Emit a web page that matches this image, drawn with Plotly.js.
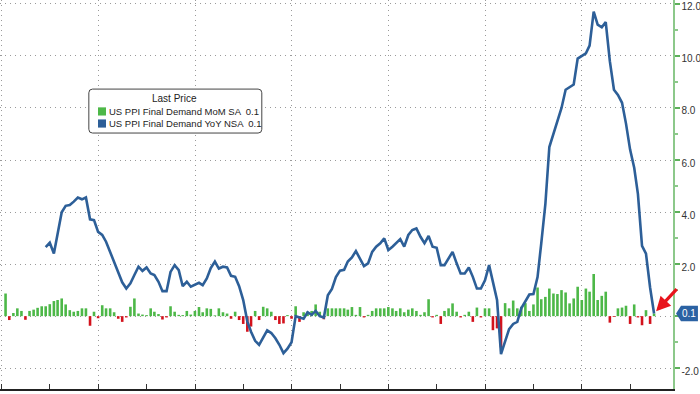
<!DOCTYPE html>
<html>
<head>
<meta charset="utf-8">
<script src="https://cdn.plot.ly/plotly-3.0.1.min.js"></script>
<style>
html,body{margin:0;padding:0;background:#fff;}
#chart{width:700px;height:394px;}
</style>
</head>
<body>
<div id="chart"></div>
<script>
// ---- Data ----
const legendTitle = "Last Price";
const momName = "US PPI Final Demand MoM SA";
const yoyName = "US PPI Final Demand YoY NSA";
const momLast = "0.1";
const yoyLast = "0.1";

// MoM SA, monthly, Jan 2010 .. Jun 2023
const momStart = [2010, 1];
const mom2010 = [0.87, -0.15, 0.12, 0.3, 0.2, -0.14, 0.2, 0.25, 0.32, 0.38, 0.38, 0.46];
const mom2011 = [0.58, 0.62, 0.68, 0.45, 0.23, 0.17, 0.2, 0.3, 0.3, -0.37, 0.17, -0.08];
const mom2012 = [0.42, 0.3, 0.3, 0.15, -0.1, -0.22, -0.05, 0.36, 0.68, 0.1, 0.06, 0.04];
const mom2013 = [0.3, 0.17, 0.08, -0.13, -0.05, 0.38, 0.17, 0.05, 0.04, 0.2, 0.06, 0.2];
const mom2014 = [0.35, 0.15, 0.3, 0.28, 0.03, 0.3, 0.15, 0.1, -0.1, 0.17, -0.15, -0.3];
const mom2015 = [-0.6, -0.4, 0.2, -0.15, 0.36, 0.3, 0.17, -0.15, -0.3, -0.28, 0.04, -0.1];
const mom2016 = [0.38, -0.22, 0.15, 0.17, 0.2, 0.45, 0.17, -0.12, 0.3, 0.3, 0.3, 0.3];
const mom2017 = [0.3, 0.25, 0.35, 0.05, 0.35, -0.05, 0.05, 0.2, 0.3, 0.3, 0.3, 0.35];
const mom2018 = [0.3, 0.2, 0.3, 0.15, 0.25, 0.3, 0.2, 0.05, 0.15, 0.65, -0.05, 0.05];
const mom2019 = [-0.3, 0.2, 0.3, 0.49, 0.17, -0.05, 0.05, 0.17, -0.22, 0.33, -0.05, 0.3];
const mom2020 = [0.3, -0.54, -0.47, -1.2, 0.5, 0.3, 0.6, 0.3, 0.36, 0.5, 0.2, 0.45];
const mom2021 = [1.1, 0.65, 0.74, 1.06, 0.87, 0.85, 1.0, 0.91, 0.49, 0.68, 1.13, 0.62];
const mom2022 = [1.06, 0.94, 1.62, 0.62, 0.78, 0.94, -0.25, -0.03, 0.3, 0.33, 0.4, -0.3];
const mom2023 = [0.45, -0.05, -0.35, 0.23, -0.3, 0.1];

// YoY NSA, monthly, Nov 2010 .. Jun 2023
const yoyStart = [2010, 11];
const yoy2010 = [2.65, 2.82];
const yoy2011 = [2.41, 3.18, 3.99, 4.24, 4.27, 4.4, 4.56, 4.49, 4.56, 3.72, 3.69, 3.24];
const yoy2012 = [3.12, 2.86, 2.47, 2.1, 1.7, 1.3, 1.06, 1.26, 1.58, 1.9, 1.74, 1.87];
const yoy2013 = [1.64, 1.58, 1.32, 0.96, 0.96, 1.7, 1.96, 1.77, 1.15, 1.32, 1.13, 1.22];
const yoy2014 = [1.28, 1.19, 1.45, 1.85, 2.1, 1.83, 1.9, 1.87, 1.55, 1.51, 1.15, 0.62];
const yoy2015 = [-0.2, -0.6, -0.95, -1.1, -0.8, -0.55, -0.65, -0.85, -1.1, -1.42, -1.25, -1.0];
const yoy2016 = [0.0, -0.05, -0.1, 0.15, 0.05, 0.2, 0.0, -0.05, 0.8, 1.05, 1.5, 1.75];
const yoy2017 = [1.78, 2.1, 2.26, 2.5, 2.22, 1.92, 2.03, 2.47, 2.67, 2.8, 2.99, 2.54];
const yoy2018 = [2.67, 2.8, 2.96, 2.67, 3.12, 3.31, 3.37, 3.05, 2.8, 3.08, 2.67, 2.63];
const yoy2019 = [1.96, 1.96, 2.2, 2.47, 2.03, 1.64, 1.64, 1.87, 1.51, 1.06, 1.06, 1.38];
const yoy2020 = [1.96, 1.26, 0.62, -1.46, -1.0, -0.5, -0.3, -0.22, 0.3, 0.55, 0.83, 0.85];
const yoy2021 = [1.5, 2.8, 4.3, 6.5, 7.0, 7.5, 8.0, 8.7, 8.8, 8.9, 9.9, 10.0];
const yoy2022 = [10.1, 10.4, 11.7, 11.2, 11.1, 11.3, 9.8, 8.7, 8.5, 8.2, 7.4, 6.4];
const yoy2023 = [5.7, 4.7, 2.7, 2.4, 1.1, 0.1];

const yTickVals = [-2, 0, 2, 4, 6, 8, 10, 12];
const yTickText = ["-2.0", "", "2.0", "4.0", "6.0", "8.0", "10.0", "12.0"];

// ---- Build ----
const momVals = [].concat(mom2010, mom2011, mom2012, mom2013, mom2014, mom2015, mom2016,
  mom2017, mom2018, mom2019, mom2020, mom2021, mom2022, mom2023);
const yoyVals = [].concat(yoy2010, yoy2011, yoy2012, yoy2013, yoy2014, yoy2015, yoy2016,
  yoy2017, yoy2018, yoy2019, yoy2020, yoy2021, yoy2022, yoy2023);

function monthEnds(start, n) {
  const out = [];
  for (let i = 0; i < n; i++) {
    const d = new Date(Date.UTC(start[0], start[1] - 1 + i + 1, 0));
    out.push(d.toISOString().slice(0, 10));
  }
  return out;
}
const momDates = monthEnds(momStart, momVals.length);
const yoyDates = monthEnds(yoyStart, yoyVals.length);

const GREEN = '#4DB848', RED = '#D3121C', BLUE = '#2D5F98';
const lastDate = yoyDates[yoyDates.length - 1];
const lastYoy = yoyVals[yoyVals.length - 1];

const traces = [
  {
    type: 'bar', x: momDates, y: momVals, name: momName,
    marker: {color: momVals.map(v => v < 0 ? RED : GREEN), line: {width: 0}},
    hoverinfo: 'skip', showlegend: false
  },
  {
    type: 'scatter', mode: 'lines', x: yoyDates, y: yoyVals, name: yoyName,
    line: {color: BLUE, width: 2.6}, hoverinfo: 'skip', showlegend: false
  }
];

const yMin = -2.8, yMax = 12.15;
const pY = v => (v - yMin) / (yMax - yMin);

// rounded rectangle path in paper coords
function roundRect(x0, x1, y0, y1, rx, ry) {
  return `M ${x0 + rx} ${y1} L ${x1 - rx} ${y1} Q ${x1} ${y1} ${x1} ${y1 - ry} ` +
    `L ${x1} ${y0 + ry} Q ${x1} ${y0} ${x1 - rx} ${y0} L ${x0 + rx} ${y0} ` +
    `Q ${x0} ${y0} ${x0} ${y0 + ry} L ${x0} ${y1 - ry} Q ${x0} ${y1} ${x0 + rx} ${y1} Z`;
}

const FONT = 'Liberation Sans, Arial, sans-serif';
const shapes = [
  {type: 'path', xref: 'paper', yref: 'paper', path: roundRect(0.132, 0.389, 0.658, 0.771, 0.0055, 0.0095),
   line: {color: '#444', width: 1}, fillcolor: 'rgba(255,255,255,0.96)', layer: 'above'},
  {type: 'rect', xref: 'paper', yref: 'paper', x0: 0.1456, x1: 0.1575, y0: 0.703, y1: 0.724,
   line: {width: 0}, fillcolor: GREEN, layer: 'above'},
  {type: 'rect', xref: 'paper', yref: 'paper', x0: 0.1456, x1: 0.1575, y0: 0.672, y1: 0.693,
   line: {width: 0}, fillcolor: BLUE, layer: 'above'},
  // last value tag
  {type: 'path', xref: 'paper', yref: 'paper',
   path: `M 1.0045 ${pY(0.1)} L 1.0119 ${pY(0.1) + 0.02} L 1.0371 ${pY(0.1) + 0.02} L 1.0371 ${pY(0.1) - 0.02} L 1.0119 ${pY(0.1) - 0.02} Z`,
   fillcolor: '#2B62A3', line: {width: 0}, layer: 'above'}
];

const annotations = [
  {xref: 'paper', yref: 'paper', x: 0.26, y: 0.746, text: legendTitle, showarrow: false, borderpad: 0,
   font: {family: FONT, size: 10, color: '#222'}, xanchor: 'center', yanchor: 'middle'},
  {xref: 'paper', yref: 'paper', x: 0.1605, y: 0.699, text: momName + '  ' + momLast + '<br>' + yoyName + '  ' + yoyLast,
   showarrow: false, borderpad: 0, align: 'left',
   font: {family: FONT, size: 9.5, color: '#222'}, xanchor: 'left', yanchor: 'middle'},
  {xref: 'paper', yref: 'paper', x: 1.024, y: pY(0.1), text: yoyLast, showarrow: false,
   font: {family: FONT, size: 10, color: '#fff'}, xanchor: 'center', yanchor: 'middle'},
  {x: lastDate, y: lastYoy, xref: 'x', yref: 'y', text: '', showarrow: true,
   arrowhead: 2, arrowsize: 0.9, arrowwidth: 3.2, arrowcolor: '#E8141C',
   ax: 24, ay: -26, standoff: 3}
];

const layout = {
  width: 700, height: 394,
  margin: {l: 0, r: 27, t: 0, b: 5, pad: 0},
  paper_bgcolor: '#fff', plot_bgcolor: '#fff',
  showlegend: false,
  bargap: 0.3,
  xaxis: {
    type: 'date', range: ['2009-12-20', '2023-11-20'],
    tick0: '2010-01-01', dtick: 'M24', showticklabels: false,
    ticks: 'inside', ticklen: 5, tickcolor: '#333',
    minor: {dtick: 'M12', ticks: 'inside', ticklen: 5, tickcolor: '#333', showgrid: false},
    showgrid: true, gridcolor: '#9a9a9a', griddash: '1px,4px', gridwidth: 1,
    showline: true, linecolor: '#222', linewidth: 1.5, zeroline: false, automargin: false, fixedrange: true
  },
  yaxis: {
    side: 'right', range: [yMin, yMax],
    tickvals: yTickVals, ticktext: yTickText, ticklabeloverflow: 'allow', ticklabelshift: 3,
    ticks: 'outside', ticklen: 5, tickwidth: 1.5, tickcolor: '#5DB05A',
    minor: {dtick: 1, tick0: 1, ticks: 'outside', ticklen: 3, tickcolor: '#8CC88A', showgrid: false},
    tickfont: {family: FONT, size: 10, color: '#333'},
    showgrid: true, gridcolor: '#9a9a9a', griddash: '1px,4px', gridwidth: 1,
    showline: true, linecolor: '#8CC88A', linewidth: 1.5, zeroline: false, automargin: false, fixedrange: true
  },
  shapes: shapes,
  annotations: annotations
};

Plotly.newPlot('chart', traces, layout, {staticPlot: true, displayModeBar: false});
</script>
</body>
</html>
